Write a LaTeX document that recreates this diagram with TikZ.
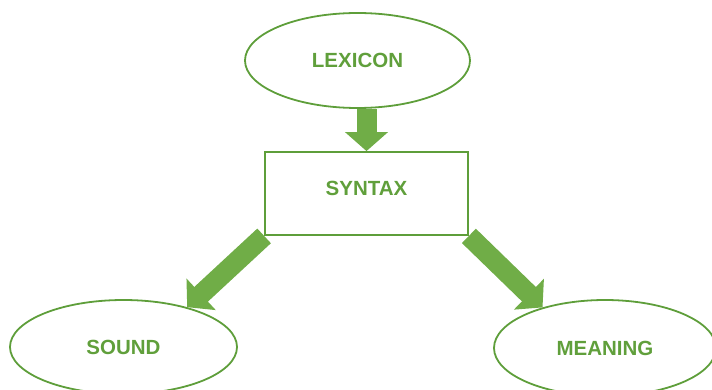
\documentclass[tikz,border=0pt]{standalone}
\usepackage{fontspec}
\setmainfont{Liberation Sans}
\usetikzlibrary{shapes.geometric,arrows.meta}

\definecolor{leafgreen}{HTML}{70AD47}
\definecolor{edgegreen}{HTML}{5E9E3A}

\begin{document}
\begin{tikzpicture}[x=1pt,y=-1pt,
	word/.style={font=\bfseries\fontsize{20.5}{22}\selectfont, text=edgegreen!90!leafgreen},
	bubble/.style={ellipse, draw=edgegreen, line width=1.8pt, inner sep=0pt, word},
	blockarrow/.style={draw=leafgreen, line width=20pt, -{Triangle[width=42pt,length=19pt]}}]
	\useasboundingbox (0,0) rectangle (712,390);
	
	% the three ellipses
	\node[bubble, minimum width=225pt, minimum height=95pt] (lex) at (357.5,60.5) {LEXICON};
	\node[bubble, minimum width=227pt, minimum height=94pt] (snd) at (123.5,347) {SOUND};
	\node[bubble, minimum width=222pt, minimum height=96pt] (mng) at (605,348) {MEANING};
	
	% box in the middle, text sits a bit high
	\node[draw=edgegreen, line width=1.8pt, word, minimum width=203pt, minimum height=83pt,
		text height=14pt, text depth=10pt] (syn) at (366.5,193.5) {SYNTAX};
	
	% block arrows
	\draw[blockarrow] (lex.south -| syn.north) -- (syn.north);
	\draw[blockarrow] (syn.south west) -- (snd.32);
	\draw[blockarrow] (syn.south east) -- (mng.147);
\end{tikzpicture}
\end{document}
